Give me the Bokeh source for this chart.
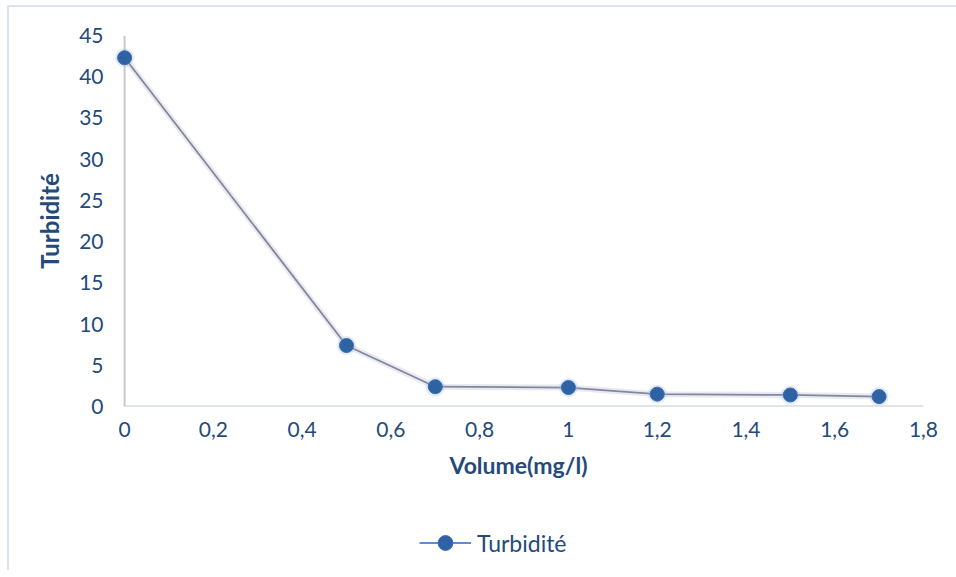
from bokeh.plotting import figure
from bokeh.layouts import column
from bokeh.models import (Range1d, FixedTicker, Legend, LegendItem)
from bokeh.embed import file_html
from bokeh.resources import INLINE

# Turbidity versus coagulant volume
volume = [0, 0.5, 0.7, 1.0, 1.2, 1.5, 1.7]
turbidite = [42.3, 7.4, 2.4, 2.3, 1.5, 1.4, 1.2]
series_name = "Turbidité"

x_ticks = [0, 0.2, 0.4, 0.6, 0.8, 1.0, 1.2, 1.4, 1.6, 1.8]
x_tick_labels = ["0", "0,2", "0,4", "0,6", "0,8", "1", "1,2", "1,4", "1,6", "1,8"]
y_ticks = [0, 5, 10, 15, 20, 25, 30, 35, 40, 45]

TEXT = "#244a7c"
FONT = "Lato"
LINE_GREY = "#868698"
LEGEND_BLUE = "#5b8ed6"
MARKER = "#2f62a3"

p = figure(width=947, height=493, output_backend="svg", toolbar_location=None,
           x_range=Range1d(-0.025, 1.8), y_range=Range1d(0, 45),
           min_border_left=104, min_border_right=33,
           min_border_top=28, min_border_bottom=94)

p.outline_line_color = None
p.grid.visible = False
p.background_fill_color = "white"
p.border_fill_color = "white"

# axes styling
for ax in (p.xaxis[0], p.yaxis[0]):
    ax.axis_line_color = None
    ax.major_tick_line_color = None
    ax.minor_tick_line_color = None
    ax.major_tick_out = 0
    ax.major_tick_in = 0
    ax.major_label_text_color = TEXT
    ax.major_label_text_font = FONT
    ax.major_label_text_font_size = "21px"
    ax.axis_label_text_color = TEXT
    ax.axis_label_text_font = FONT
    ax.axis_label_text_font_style = "bold"

p.xaxis.ticker = FixedTicker(ticks=x_ticks)
p.xaxis.major_label_overrides = {t: lab for t, lab in zip(x_ticks, x_tick_labels)}
p.xaxis.major_label_standoff = 15
p.xaxis.axis_label = "Volume(mg/l)"
p.xaxis.axis_label_text_font_size = "23px"
p.xaxis.axis_label_standoff = 11

p.yaxis.ticker = FixedTicker(ticks=y_ticks)
p.yaxis.major_label_standoff = 10
p.yaxis.axis_label = series_name
p.yaxis.axis_label_text_font_size = "24px"
p.yaxis.axis_label_standoff = 12

# axis lines through the origin
p.segment(x0=[0, 0], y0=[0, 0], x1=[0, x_ticks[-1]], y1=[y_ticks[-1], 0],
          line_color="#c4c9d4", line_width=2)

# series with a soft halo
p.line(volume, turbidite, line_color="#b9c4dc", line_width=6, line_alpha=0.35)
p.line(volume, turbidite, line_color=LINE_GREY, line_width=1.8)
p.scatter(volume, turbidite, size=19, fill_color="#9fb9e0", line_color=None, fill_alpha=0.3)
p.scatter(volume, turbidite, size=14, fill_color=MARKER, line_color="#3a6cb0", line_width=1)

# legend strip below the chart; its key glyphs use the series but sit off-range
lg = figure(width=947, height=70, output_backend="svg", toolbar_location=None,
            x_range=Range1d(100, 101), y_range=Range1d(100, 101),
            min_border_left=0, min_border_right=0, min_border_top=0, min_border_bottom=0)
lg.axis.visible = False
lg.grid.visible = False
lg.outline_line_color = None
lg.background_fill_color = "white"
lg.border_fill_color = "white"
key_line = lg.line(volume, turbidite, line_color=LEGEND_BLUE, line_width=2)
key_marker = lg.scatter(volume, turbidite, size=14, fill_color=MARKER,
                        line_color="#3a6cb0", line_width=1)
legend = Legend(items=[LegendItem(label=series_name, renderers=[key_line, key_marker])],
                location=(302, 5), orientation="horizontal",
                border_line_alpha=0, background_fill_alpha=0,
                glyph_width=52, glyph_height=37, label_standoff=6,
                label_text_font=FONT, label_text_font_size="23px",
                label_text_color=TEXT, margin=0, padding=4)
lg.add_layout(legend)

page = column(p, lg, spacing=0)
page.margin = (5, 0, 0, 7)
page.styles = {"border-left": "2px solid #d9e3f1", "border-top": "2px solid #d9e3f1"}

open("out.html", "w").write(file_html(page, INLINE))
